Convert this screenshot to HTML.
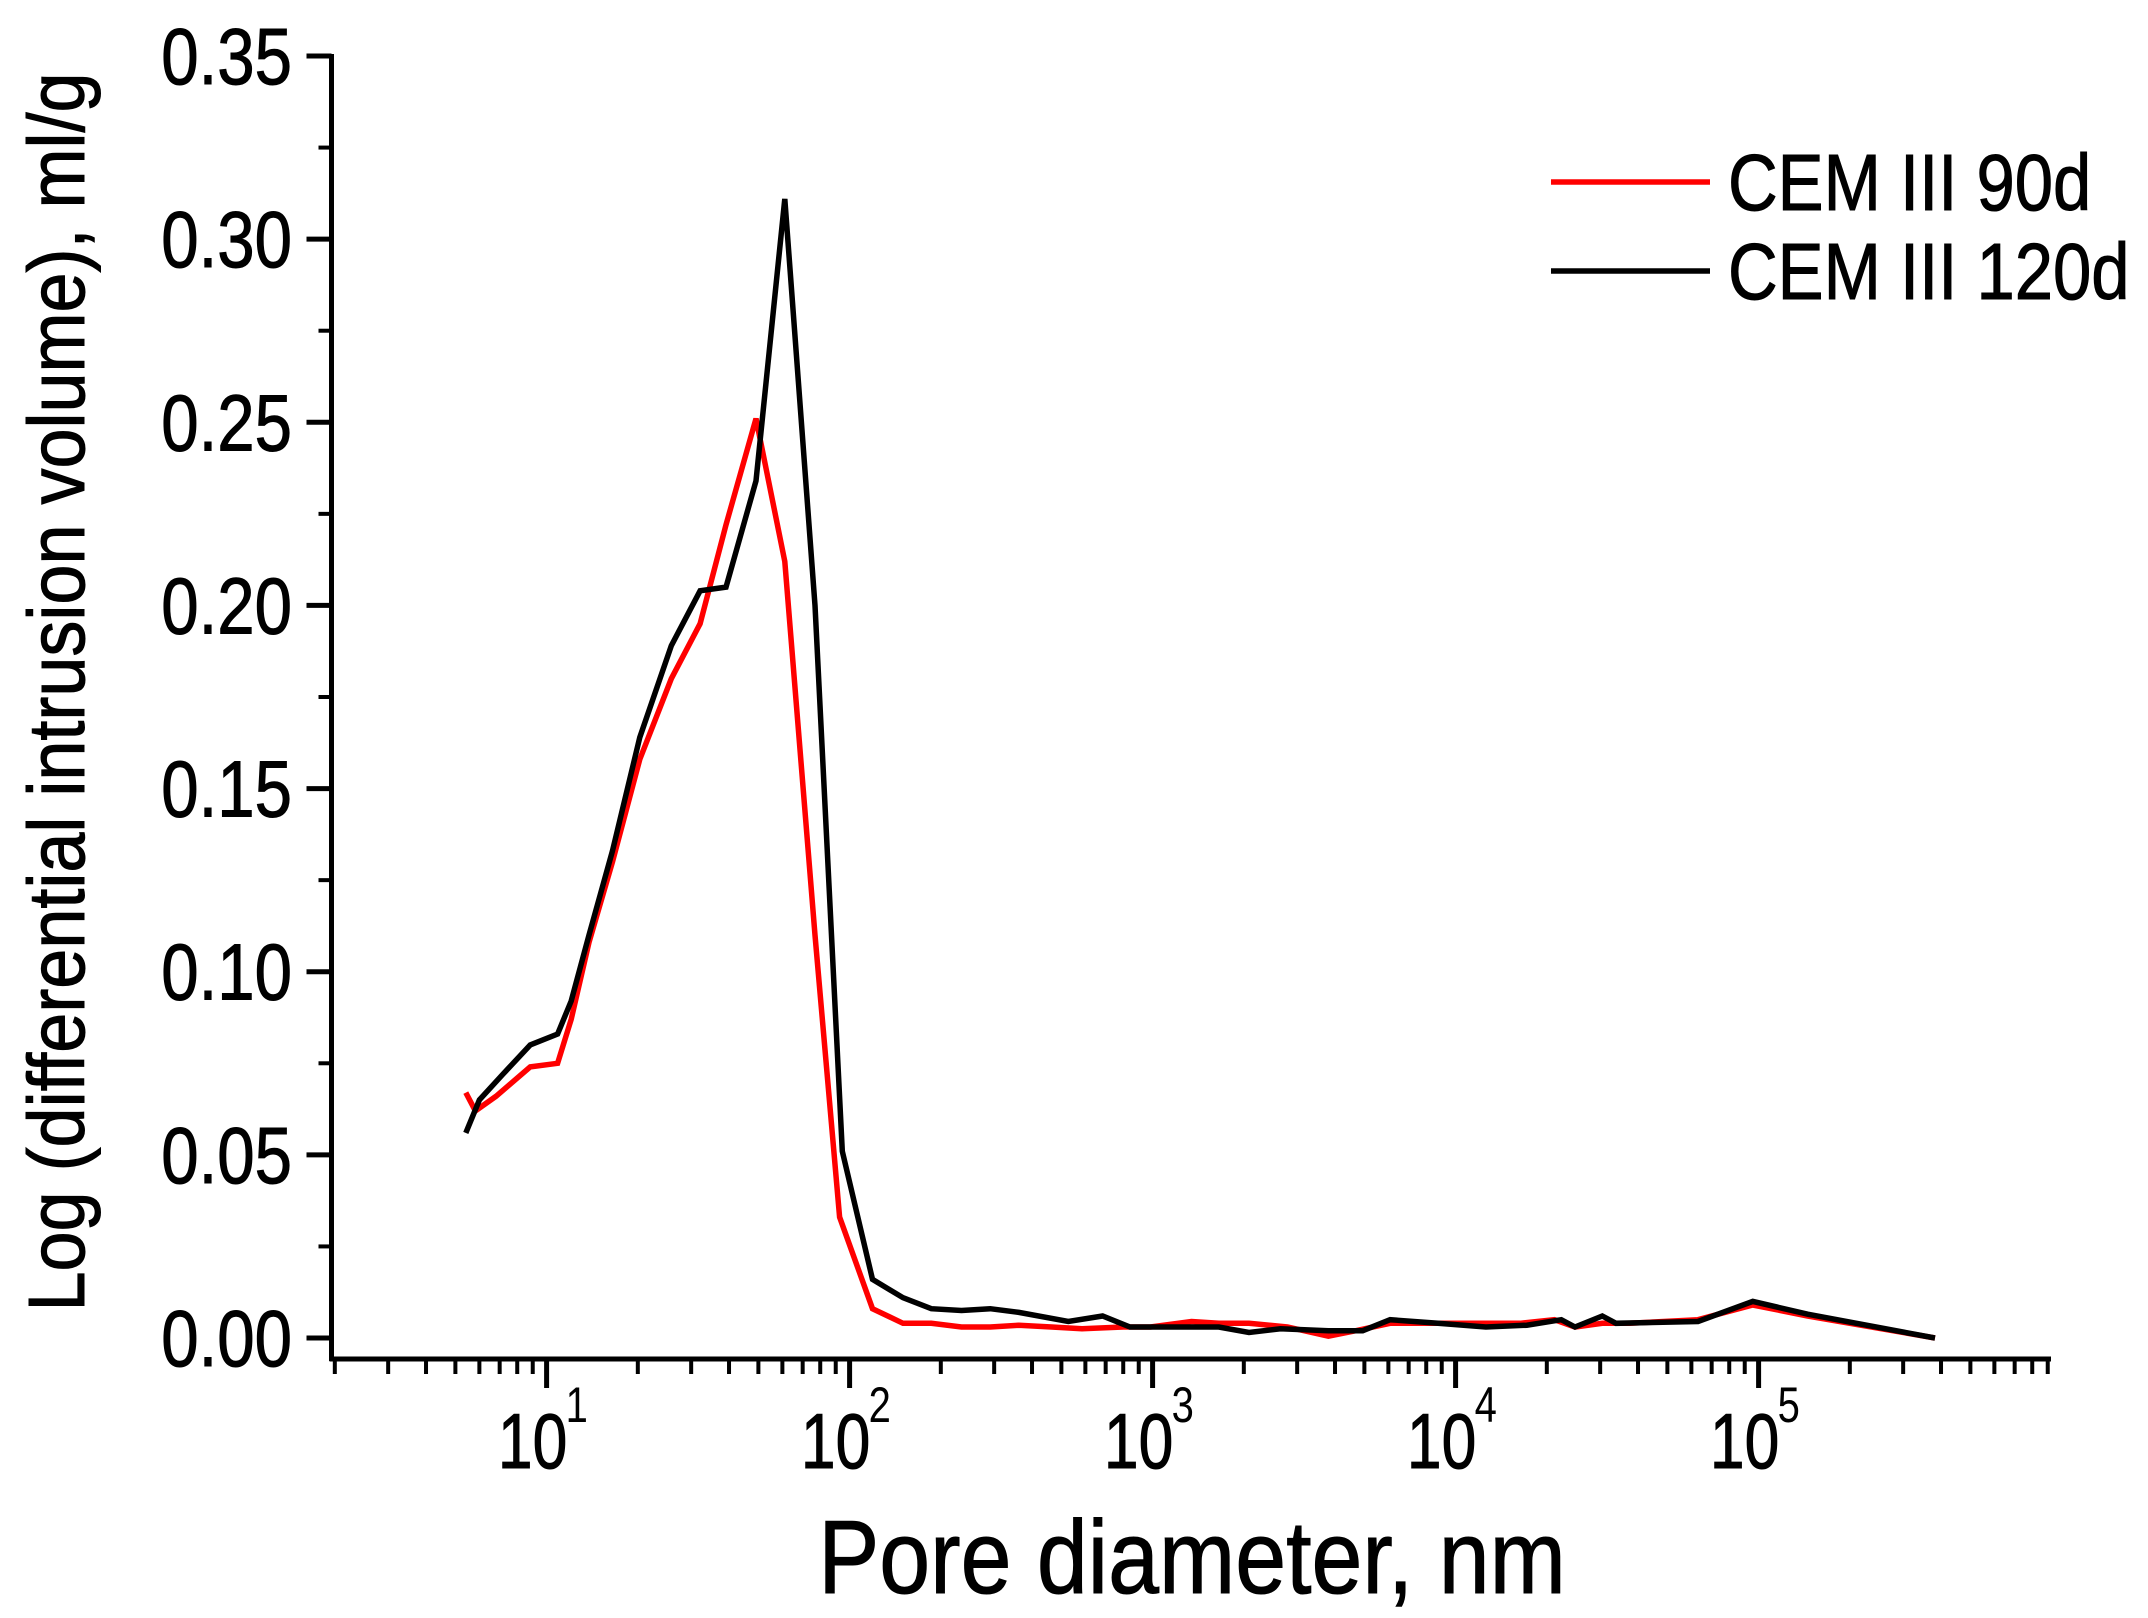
<!DOCTYPE html>
<html><head><meta charset="utf-8"><style>
html,body{margin:0;padding:0;background:#fff;}
svg{display:block;font-family:"Liberation Sans",Arial,sans-serif;}
</style></head><body>
<svg id="chart" width="2148" height="1618" viewBox="0 0 2148 1618" xmlns="http://www.w3.org/2000/svg">
<g id="axes"></g>
<g id="series"></g>
<g id="legend"></g>
</svg>
<script>
const yTicks = [0.00,0.05,0.10,0.15,0.20,0.25,0.30,0.35];
const yTickLabels = ["0.00","0.05","0.10","0.15","0.20","0.25","0.30","0.35"];
const xDecades = [1,2,3,4,5];
const seriesNames = ["CEM III 90d","CEM III 120d"];
const redX = [5.41,5.82,6.81,8.83,10.87,12.06,13.8,16.5,20.3,25.8,32.1,39.1,49.1,61.1,76.9,92.7,119,150,186,234,291,362,464,585,799,984,1344,1654,2080,2786,3805,4686,6077,7882,10220,12590,16320,21180,24770,30480,37520,63100,95700,145200,382000];
const redY = [0.067,0.062,0.066,0.074,0.075,0.087,0.108,0.130,0.158,0.180,0.195,0.222,0.251,0.212,0.110,0.033,0.008,0.004,0.004,0.003,0.003,0.0035,0.003,0.0025,0.003,0.003,0.0045,0.004,0.004,0.003,0.0005,0.002,0.004,0.004,0.004,0.004,0.004,0.005,0.003,0.004,0.004,0.005,0.009,0.006,0.0];
const blackX = [5.41,6.0,7.17,8.83,10.87,12.06,13.8,16.5,20.3,25.8,32.1,39.1,49.1,61.1,76.9,94.6,119,150,186,234,291,362,527,684,842,1344,1654,2080,2643,3805,4935,6077,8750,12590,17180,22330,24770,30480,33830,63100,95700,145200,382000];
const blackY = [0.056,0.065,0.072,0.080,0.083,0.092,0.110,0.133,0.164,0.189,0.204,0.205,0.234,0.311,0.200,0.051,0.016,0.011,0.008,0.0075,0.008,0.007,0.0045,0.006,0.003,0.003,0.003,0.0015,0.0025,0.002,0.002,0.005,0.004,0.003,0.0035,0.005,0.003,0.006,0.004,0.0045,0.010,0.0065,0.0];

const NS="http://www.w3.org/2000/svg";
const X0=331.5, X1=2051, Y0=1338, Ytop=56, AXY=1359;
const DEC=303, X10=546.6;
function xs(v){return X10+(Math.log10(v)-1)*DEC;}
function ys(v){return Y0-(v/0.35)*(Y0-Ytop);}
function mk(tag,attrs,parent){const e=document.createElementNS(NS,tag);for(const k in attrs)e.setAttribute(k,attrs[k]);parent.appendChild(e);return e;}
const axes=document.getElementById('axes');
let e;
e=mk('line',{x1:X0,y1:AXY+2,x2:X0,y2:Ytop-2,stroke:'#000','stroke-width':5},axes);


e=mk('line',{x1:X0-2,y1:AXY,x2:X1,y2:AXY,stroke:'#000','stroke-width':5},axes);


yTicks.forEach((t,i)=>{
  const y=ys(t);
  e=mk('line',{x1:X0-25,y1:y,x2:X0,y2:y,stroke:'#000','stroke-width':5},axes);
  
  
  if(i<yTicks.length-1){const ym=ys(t+0.025);
    e=mk('line',{x1:X0-13,y1:ym,x2:X0,y2:ym,stroke:'#000','stroke-width':4},axes);
    
    }
  e=mk('text',{transform:`translate(292,${y+28}) scale(0.84,1)`,'text-anchor':'end','font-size':80,'stroke':'#000','stroke-width':1},axes);
  e.textContent=yTickLabels[i];
  
  
});
for(let d=0;d<=6;d++){
  for(let m=1;m<=9;m++){
    const lv=d+Math.log10(m);
    const x=X10+(lv-1)*DEC;
    if(x<X0-1||x>X1+1)continue;
    const major=(m===1);
    e=mk('line',{x1:x,y1:AXY,x2:x,y2:AXY+(major?29:15),stroke:'#000','stroke-width':major?5:4},axes);
    
    
  }
}
xDecades.forEach(p=>{
  const x=X10+(p-1)*DEC;
  const t=mk('text',{transform:`translate(${x-14},1468) scale(0.8,1)`,'text-anchor':'middle','font-size':78,'stroke':'#000','stroke-width':1},axes);
  t.textContent='10';
  
  
  const s=mk('text',{transform:`translate(${x+19},1422) scale(0.8,1)`,'font-size':50},axes);
  s.textContent=String(p);
  
  
});
e=mk('text',{transform:'translate(1192,1593) scale(0.88,1)','text-anchor':'middle','font-size':104,'stroke':'#000','stroke-width':1},axes);
e.textContent='Pore diameter, nm';


e=mk('text',{transform:'translate(84,692) rotate(-90) scale(0.9,1)','text-anchor':'middle','font-size':80,'stroke':'#000','stroke-width':1},axes);
e.textContent='Log (differential intrusion volume), ml/g';



const ser=document.getElementById('series');
function line(xa,ya,color,name){
  const d=xa.map((v,i)=>(i?'L':'M')+xs(v).toFixed(1)+','+ys(ya[i]).toFixed(1)).join('');
  const p=mk('path',{d:d,fill:'none',stroke:color,'stroke-width':5.5,'stroke-linejoin':'miter'},ser);
  
  
}
line(redX,redY,'#ff0000','series-cem-iii-90d');
line(blackX,blackY,'#000000','series-cem-iii-120d');

const leg=document.getElementById('legend');
[['#ff0000',182],['#000000',271]].forEach((c,i)=>{
  e=mk('line',{x1:1551,y1:c[1],x2:1710,y2:c[1],stroke:c[0],'stroke-width':5.5},leg);
  
  
  e=mk('text',{transform:`translate(1728,${c[1]+28}) scale(0.86,1)`,'font-size':80,'stroke':'#000','stroke-width':1},leg);
  e.textContent=seriesNames[i];
  
  
});
</script>
</body></html>
